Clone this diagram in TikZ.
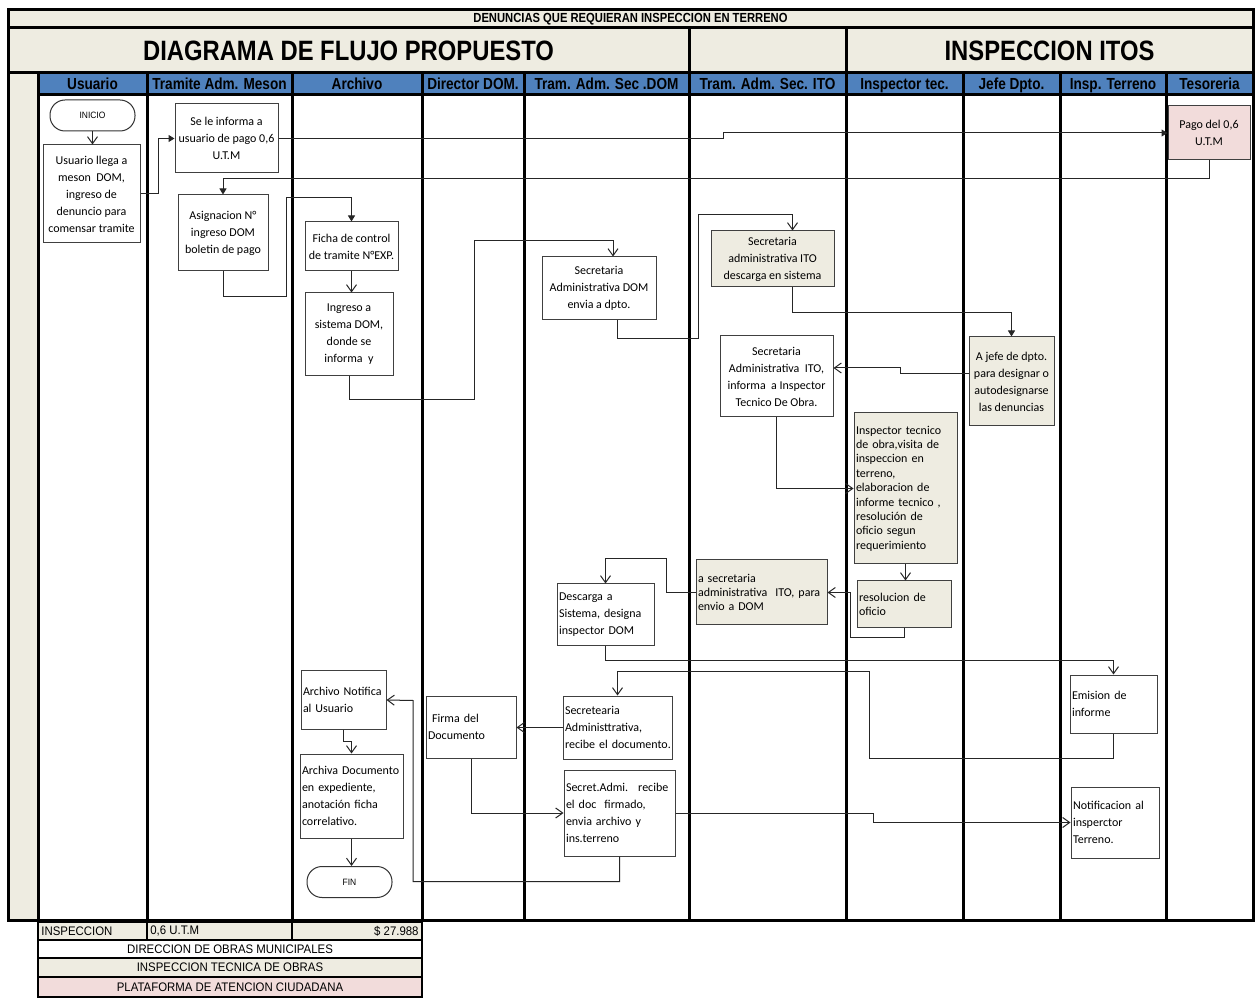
\documentclass[tikz,border=0pt]{standalone}
\usepackage{fontspec}
\setmainfont{Carlito}
\newfontfamily\hdfont[FakeStretch=0.85]{Liberation Sans}
\newfontfamily\tbfont[FakeStretch=0.92]{Liberation Sans}
\usepackage{tikz}
\usetikzlibrary{arrows.meta}
\definecolor{beige}{RGB}{238,236,225}
\definecolor{hdblue}{RGB}{79,129,189}
\definecolor{pagopink}{RGB}{242,220,219}
\tikzstyle{proc} = [draw=black!75, line width=0.5pt, fill=white, inner sep=1pt,
   align=center, font=\fontsize{6}{8.5}\selectfont]
\tikzstyle{procl} = [proc, align=left]
\tikzstyle{itobox} = [fill=beige]
\tikzstyle{term} = [draw=black!80, line width=0.5pt, fill=white, rounded corners=7.5pt,
   minimum width=42.5pt, minimum height=15.5pt, font=\tbfont\fontsize{4.6}{5}\selectfont]
\tikzstyle{flow} = [draw=black!85, line width=0.5pt, -{Straight Barb[length=3.5pt,width=5pt]}]
\tikzstyle{flowf} = [draw=black!85, line width=0.5pt, -{Triangle[length=3pt,width=3.5pt]}]
\tikzstyle{lane} = [line width=1.5pt]
\tikzstyle{tbtext} = [inner sep=1pt, font=\tbfont\fontsize{6.2}{7}\selectfont]

\begin{document}
\begin{tikzpicture}[x=0.5pt, y=-0.5pt]
  \useasboundingbox[fill=white] (0,0) rectangle (1255,1000);
  % marco y carriles
  \fill[beige] (8,10) rectangle (1253,920);
  \fill[white] (38,95) rectangle (1253,920);
  \foreach \xa/\xb/\lab in {38/147/Usuario, 147/292/Tramite Adm. Meson, 292/422/Archivo,
      422/524/Director DOM., 524/689/Tram. Adm. Sec .DOM, 689/846/Tram. Adm. Sec. ITO,
      846/963/Inspector tec., 963/1060/Jefe Dpto., 1060/1166/Insp.  Terreno, 1166/1253/Tesoreria} {
    \fill[hdblue] (\xa,73) rectangle (\xb,95);
    \node[anchor=base, font=\hdfont\bfseries\fontsize{8}{9}\selectfont] (hd\xa) at ({(\xa+\xb)/2},90) {\lab};
    \draw[lane] (\xa,73) -- (\xa,920);
  }
  \draw[lane] (8,10) rectangle (1253,920);
  \draw[lane] (8,28) -- (1253,28);
  \draw[lane] (8,73) -- (1253,73);
  \draw[lane] (38,95) -- (1253,95);
  \draw[lane] (689,28) -- (689,73) (846,28) -- (846,73);
  \node[font=\hdfont\bfseries\fontsize{6.6}{7}\selectfont] (titulo) at (630.5,19)
    {DENUNCIAS QUE REQUIERAN INSPECCION EN TERRENO};
  \node[font=\hdfont\bfseries\fontsize{14}{16}\selectfont] (diagrama) at (348.5,51)
    {DIAGRAMA DE FLUJO PROPUESTO};
  \node[font=\hdfont\bfseries\fontsize{14}{16}\selectfont] (itos) at (1049.5,51)
    {INSPECCION ITOS};

  % pasos
  \node[term] (inicio) at (92.5,115.5) {INICIO};
  \node[proc, minimum width=48.5pt, minimum height=49pt] (llega) at (91.5,194)
    {Usuario llega a\\meson \ DOM,\\ingreso de\\denuncio para\\comensar tramite};
  \node[proc, minimum width=51.5pt, minimum height=34.5pt] (informa) at (226.5,138.5)
    {Se le informa a\\usuario de pago 0,6\\U.T.M};
  \node[proc, minimum width=45pt, minimum height=38pt] (asig) at (223,233)
    {Asignacion N°\\ingreso DOM\\boletin de pago};
  \node[proc, minimum width=46.5pt, minimum height=24.5pt] (ficha) at (351.5,246.5)
    {Ficha de control\\de tramite N°EXP.};
  \node[proc, minimum width=44pt, minimum height=41.5pt] (ingreso) at (349,334.5)
    {Ingreso a\\sistema DOM,\\donde se\\informa \ y};
  \node[proc, minimum width=57pt, minimum height=31.5pt] (secdom) at (599,288.5)
    {Secretaria\\Administrativa DOM\\envia a dpto.};
  \node[proc, itobox, minimum width=61.5pt, minimum height=28pt] (itodesc) at (772.5,259)
    {Secretaria\\administrativa ITO\\descarga en sistema};
  \node[proc, minimum width=56.5pt, minimum height=40.5pt] (itoinf) at (776.5,376.5)
    {Secretaria\\Administrativa \ ITO,\\informa \ a Inspector\\Tecnico De Obra.};
  \node[proc, itobox, minimum width=42.5pt, minimum height=44.5pt] (jefe) at (1011.5,381.5)
    {A jefe de dpto.\\para designar o\\autodesignarse\\las denuncias};
  \node[proc, fill=pagopink, minimum width=41pt, minimum height=27pt] (pago) at (1209,133)
    {Pago del 0,6\\U.T.M};
  \node[procl, itobox, font=\fontsize{6}{7.2}\selectfont, text width=49.5pt,
    minimum height=75.5pt] (insp) at (905.5,488.5)
    {Inspector tecnico\\de obra,visita de\\inspeccion en\\terreno,\\elaboracion de\\informe tecnico ,\\resolución de\\oficio segun\\requerimiento};
  \node[procl, itobox, font=\fontsize{6}{7}\selectfont, text width=45pt,
    minimum height=23.5pt] (resol) at (904,604.5) {resolucion de\\oficio};
  \node[procl, itobox, font=\fontsize{6}{7}\selectfont, text width=63.5pt,
    minimum height=32.5pt] (asec) at (761.5,592.5)
    {a secretaria\\\mbox{administrativa \ ITO, para}\\envio a DOM};
  \node[procl, text width=46.5pt, minimum height=31pt] (desc) at (605.5,615)
    {Descarga a\\\mbox{Sistema, designa}\\inspector DOM};
  \node[procl, text width=41.5pt, minimum height=29pt] (emision) at (1113.5,704)
    {Emision de\\informe};
  \node[procl, text width=52.5pt, minimum height=31.5pt] (secrec) at (617.5,727.5)
    {Secretearia\\Administtrativa,\\\mbox{recibe el documento.}};
  \node[procl, text width=43pt, minimum height=31pt] (firma) at (471,727)
    {\ Firma del\\Documento};
  \node[procl, text width=40.5pt, minimum height=29pt] (archnot) at (343.5,700)
    {\mbox{Archivo Notifica}\\al Usuario};
  \node[procl, text width=49.5pt, minimum height=42pt] (archdoc) at (351.5,796)
    {\mbox{Archiva Documento}\\en expediente,\\anotación ficha\\correlativo.};
  \node[term] (fin) at (349.5,882) {FIN};
  \node[procl, text width=53.5pt, minimum height=43pt] (secadmi) at (619.5,813)
    {\mbox{Secret.Admi. \ recibe}\\el doc \ firmado,\\envia archivo y\\ins.terreno};
  \node[procl, text width=42pt, minimum height=35.5pt] (notif) at (1115,822.5)
    {\mbox{Notificacion al}\\insperctor\\Terreno.};

  % conectores
  \draw[flow] (inicio.south) -- (inicio.south |- llega.north);
  \draw[flowf] (llega.east) -- ++(18,0) |- (informa.west);
  \draw[flowf] (informa.east) -- ++(445,0) |- (pago.west);
  \draw[flowf] (pago.south) -- ++(0,18) -| (asig.north);
  \draw[flowf] (asig.south) -- ++(0,25) -- ++(63,0) -- ++(0,-99) -| (ficha.north);
  \draw[flow] (ficha.south) -- (ficha.south |- ingreso.north);
  \draw[flow] (ingreso.south) -- ++(0,23) -| ++(125,-159) -| ([xshift=7pt]secdom.north);
  \draw[flow] ([xshift=9pt]secdom.south) -- ++(0,18) -| ++(81,-124) -| ([xshift=10pt]itodesc.north);
  \draw[flowf] ([xshift=10pt]itodesc.south) -- ++(0,25) -| (jefe.north);
  \draw[flow] ([yshift=3.75pt]jefe.west) -- ++(-68,0) -- ++(0,-6) -- ([yshift=4.25pt]itoinf.east);
  \draw[flow] (itoinf.south) |- (insp.west);
  \draw[flow] (insp.south) -- (insp.south |- resol.north);
  \draw[flow] (resol.south) -- ++(0,9) -- ++(-54,0) |- (asec.east);
  \draw[flow] (asec.west) -- ++(-29,0) -- ++(0,-33.5) -| (desc.north);
  \draw[flow] (desc.south) -- ++(0,14) -| (emision.north);
  \draw[flow] (emision.south) -- ++(0,25) -- ++(-244.5,0) -- ++(0,-87) -| (secrec.north);
  \draw[flow] (secrec.west) -- (secrec.west -| firma.east);
  \draw[flow] (firma.south) |- (secadmi.west);
  \draw[flow] (secadmi.east) -- ++(198,0) |- (notif.west);
  \draw[flow] (secadmi.south) -- ++(0,25) -| ++(-206.5,-181) -- (archnot.east);
  \draw[flow] (archnot.south) -- ++(0,12) -| (archdoc.north);
  \draw[flow] (archdoc.south) -- (archdoc.south |- fin.north);

  % tabla inferior
  \fill[beige] (38,922) rectangle (422,940);
  \fill[beige] (38,958) rectangle (422,977);
  \fill[pagopink] (38,977) rectangle (422,997);
  \draw[line width=1pt] (38,922) rectangle (422,997);
  \draw[line width=1pt] (38,940) -- (422,940) (38,958) -- (422,958) (38,977) -- (422,977)
    (147,922) -- (147,940) (292,922) -- (292,940);
  \node[tbtext, anchor=west] (costo1) at (39,931) {INSPECCION};
  \node[tbtext, anchor=west] (costo2) at (148,931) {0,6 U.T.M};
  \node[tbtext, anchor=east] (costo3) at (421,931) {\$ 27.988};
  \node[tbtext] (ley1) at (230,949) {DIRECCION DE OBRAS MUNICIPALES};
  \node[tbtext] (ley2) at (230,967.5) {INSPECCION TECNICA DE OBRAS};
  \node[tbtext] (ley3) at (230,987) {PLATAFORMA DE ATENCION CIUDADANA};
\end{tikzpicture}
\end{document}
